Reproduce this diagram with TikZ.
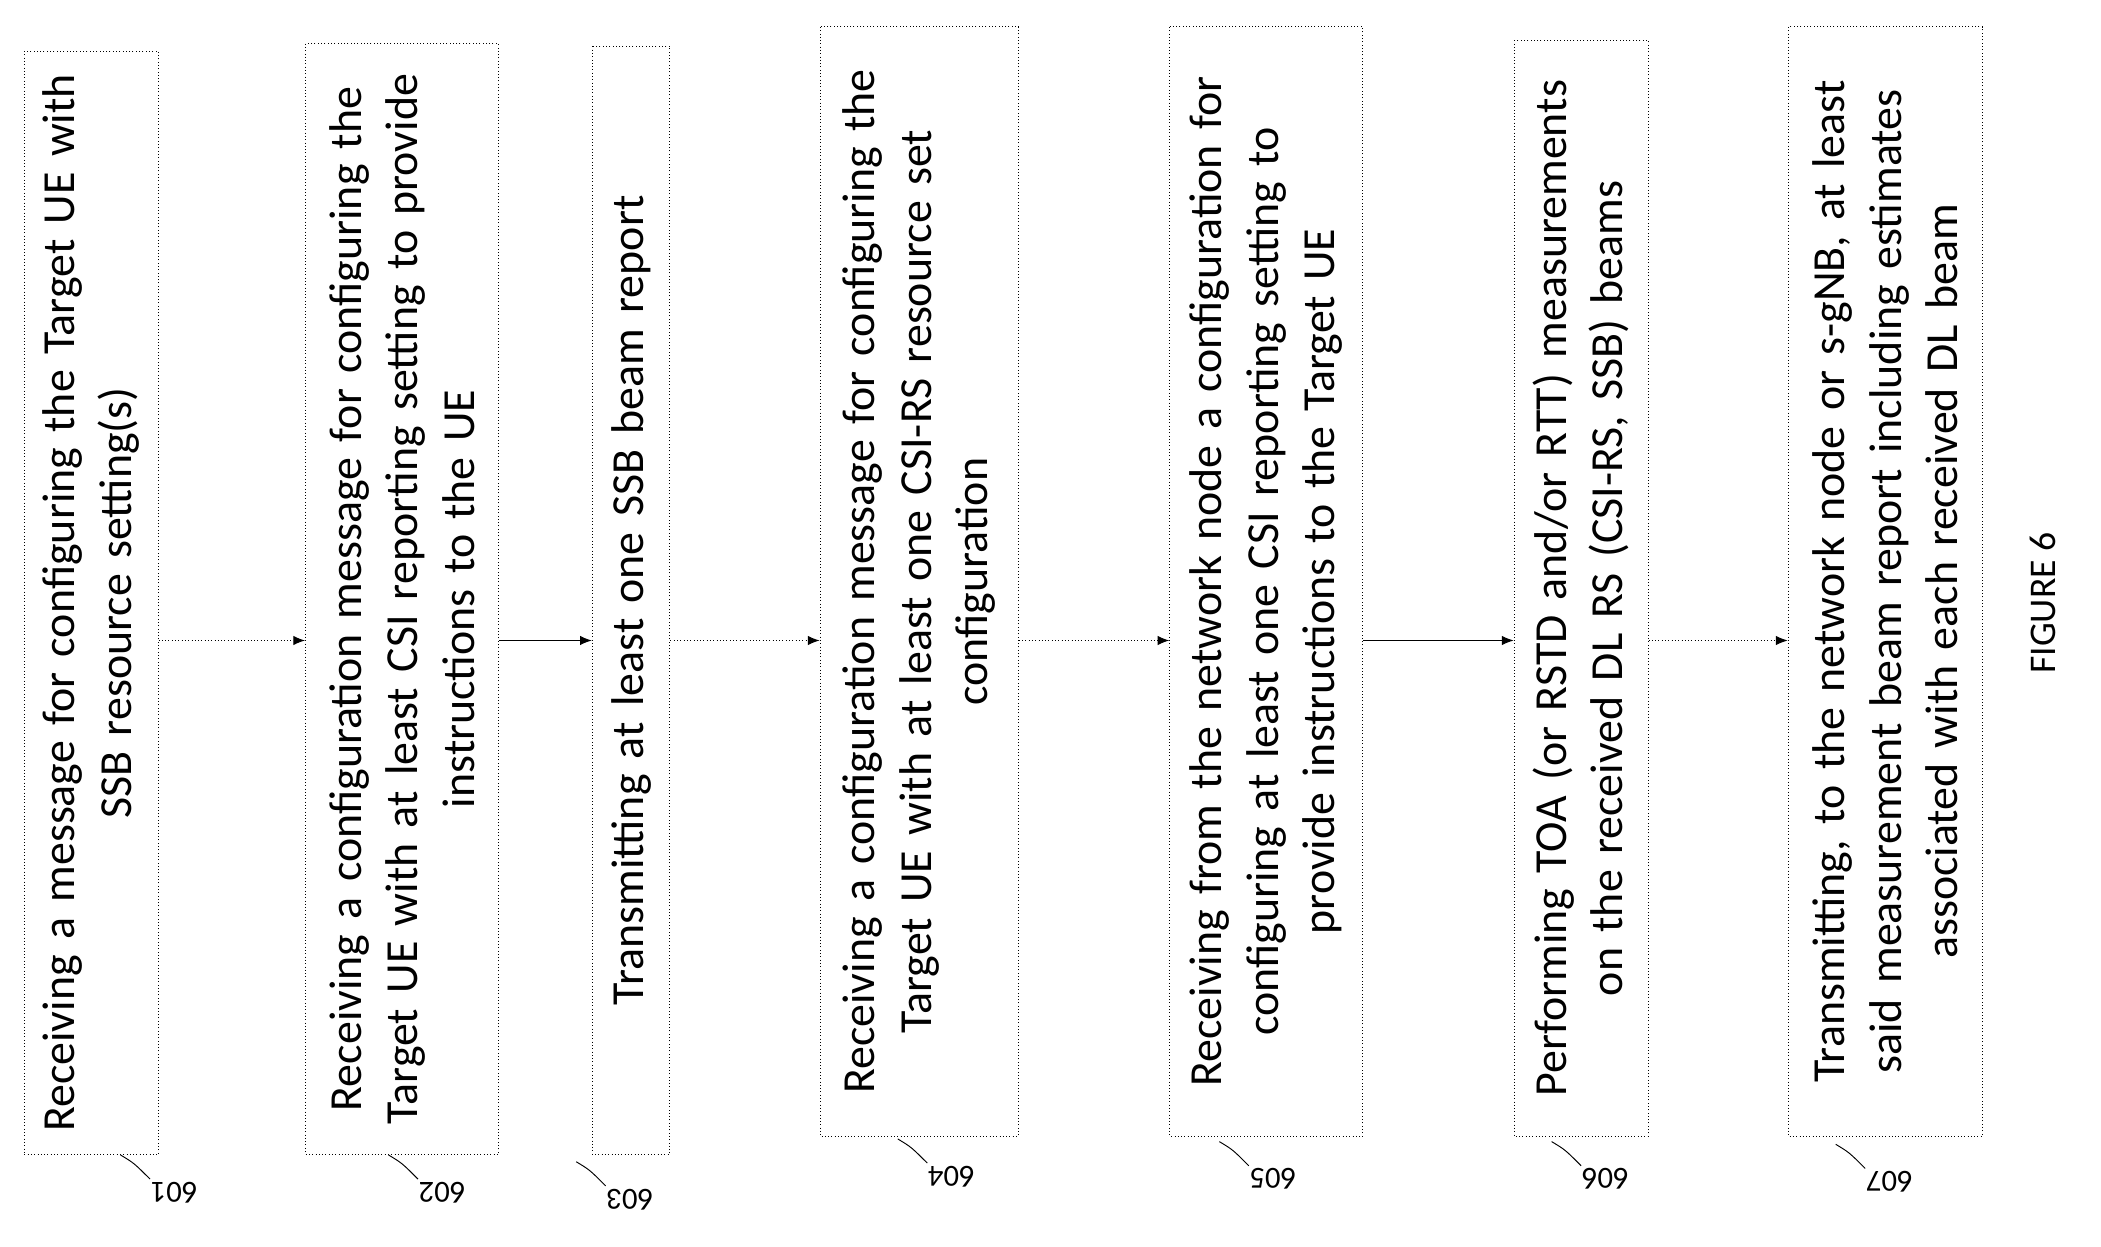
\documentclass[tikz,border=0pt]{standalone}
\usepackage{fontspec}
\setmainfont{Carlito}
\usetikzlibrary{arrows.meta}
\tikzset{
  stepbox/.style={draw, densely dotted, rotate=90, align=center, inner sep=1pt,
    font=\fontsize{19.5}{24}\selectfont},
  link/.style={-{Latex[length=5pt,width=4pt]}, thin},
  num/.style={rotate=180, font=\fontsize{13}{15}\selectfont},
}
\begin{document}
\begin{tikzpicture}[x=0.02cm,y=-0.02cm]
  \useasboundingbox (0,0) rectangle (1568,930);
  % process steps
  \node[stepbox, minimum width=16.48cm, minimum height=2cm, text width=16.3cm] (s1) at (68,450)
    {Receiving a message for configuring the Target UE with\\ SSB resource setting(s)};
  \node[stepbox, minimum width=16.58cm, minimum height=2.88cm, text width=16.45cm] (s2) at (300,447)
    {Receiving a configuration message for configuring the\\ Target UE with at least CSI reporting setting to provide\\ instructions to the UE};
  \node[stepbox, minimum width=16.54cm, minimum height=1.16cm, text width=16.4cm] (s3) at (471,448)
    {Transmitting at least one SSB beam report};
  \node[stepbox, minimum width=16.56cm, minimum height=2.96cm, text width=16.4cm] (s4) at (686,434)
    {Receiving a configuration message for configuring the\\ Target UE with at least one CSI-RS resource set\\ configuration};
  \node[stepbox, minimum width=16.56cm, minimum height=2.88cm, text width=16.4cm] (s5) at (945,434)
    {Receiving from the network node a configuration for\\ configuring at least one CSI reporting setting to\\ provide instructions to the Target UE};
  \node[stepbox, minimum width=16.36cm, minimum height=2cm, text width=16.2cm] (s6) at (1180,439)
    {Performing TOA (or RSTD and/or RTT) measurements\\ on the received DL RS (CSI-RS, SSB) beams};
  \node[stepbox, minimum width=16.56cm, minimum height=2.9cm, text width=16.4cm] (s7) at (1407,434)
    {Transmitting, to the network node or s-gNB, at least\\ said measurement beam report including estimates\\ associated with each received DL beam};
  % connectors
  \draw[link, densely dotted] (s1.south |- 0,478) -- (s2.north |- 0,478);
  \draw[link] (s2.south |- 0,478) -- (s3.north |- 0,478);
  \draw[link, densely dotted] (s3.south |- 0,478) -- (s4.north |- 0,478);
  \draw[link, densely dotted] (s4.south |- 0,478) -- (s5.north |- 0,478);
  \draw[link] (s5.south |- 0,478) -- (s6.north |- 0,478);
  \draw[link, densely dotted] (s6.south |- 0,478) -- (s7.north |- 0,478);
  % reference numerals
  \foreach \n/\x/\y in {601/130/890, 602/330/890, 603/470/895, 604/710/878, 605/950/880, 606/1198/880, 607/1410/882}{
    \node[num] (n\n) at (\x,\y) {\n};
    \draw (\x-40,\y-28) .. controls (\x-30,\y-22) .. (\x-18,\y-10);
  }
  \node[rotate=90, font=\fontsize{16}{18}\selectfont] (fig) at (1525,450) {FIGURE 6};
\end{tikzpicture}
\end{document}
